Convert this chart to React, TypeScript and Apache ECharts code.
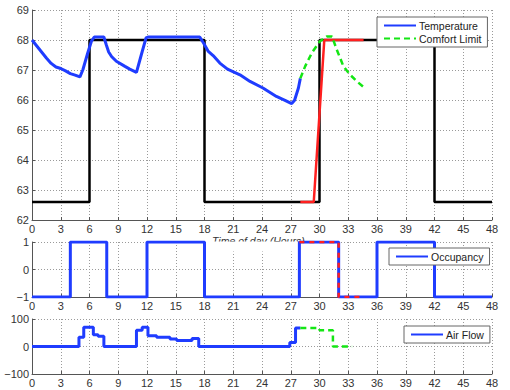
import React, { useEffect, useRef } from "react";
import * as echarts from "echarts";

// x tick labels (hours)
const hourTicks = [0, 3, 6, 9, 12, 15, 18, 21, 24, 27, 30, 33, 36, 39, 42, 45, 48];

// Top panel: temperature (°F)
const temperature: [number, number][] = [
  [0, 68], [0.5, 67.8], [1, 67.6], [1.5, 67.4], [2, 67.22], [2.5, 67.1], [3, 67.05],
  [3.5, 66.97], [4, 66.88], [4.5, 66.83], [5, 66.77], [5.3, 67.0], [5.8, 67.55],
  [6.2, 67.96], [6.5, 68.1], [7.5, 68.1], [7.75, 67.84], [8.0, 67.6], [8.3, 67.45],
  [8.8, 67.29], [9.7, 67.12], [10.2, 67.03], [10.9, 66.92], [11.4, 67.5], [11.9, 68.07],
  [12.1, 68.1], [17.5, 68.1], [17.9, 67.9], [18.4, 67.62], [18.9, 67.48], [19.6, 67.23],
  [20.4, 67.03], [21.7, 66.84], [22.75, 66.62], [24.1, 66.4], [25.5, 66.12], [26.4, 65.99],
  [27.1, 65.88], [27.4, 65.99], [27.8, 66.4], [28, 66.72],
];
const comfortTemp: [number, number][] = [
  [28, 66.72], [28.5, 67.12], [29.2, 67.57], [30.05, 67.96], [30.75, 68.12], [31.3, 68.12],
  [31.8, 67.68], [32.5, 67.12], [33.2, 66.84], [33.9, 66.62], [34.6, 66.43],
];
const setpoint: [number, number][] = [
  [0, 62.6], [6, 62.6], [6, 68], [18, 68], [18, 62.6], [30, 62.6], [30, 68], [42, 68],
  [42, 62.6], [48, 62.6],
];
const predictedSetpoint: [number, number][] = [
  [28, 62.6], [29.4, 62.6], [30.5, 68], [34.6, 68],
];

// Middle panel: occupancy
const occupancy: [number, number][] = [
  [0, -1], [4, -1], [4, 1], [7.8, 1], [7.8, -1], [12, -1], [12, 1], [18, 1], [18, -1],
  [27.9, -1], [27.9, 1], [32, 1], [32, -1], [36, -1], [36, 1], [42, 1], [42, -1], [48, -1],
];
const predictedOccupancy: [number, number][] = [
  [27.9, 1], [32, 1], [32, -1], [34.6, -1],
];

// Bottom panel: air flow
const airFlow: [number, number][] = [
  [0, 0], [4.9, 0], [4.9, 34], [5.4, 34], [5.4, 70], [6.4, 70], [6.4, 43], [6.9, 43],
  [6.9, 37], [7.5, 37], [7.5, 0], [10.9, 0], [10.9, 59], [11.5, 59], [11.5, 70], [12.1, 70],
  [12.1, 39], [13, 39], [13, 34], [14.4, 34], [14.4, 27], [15.1, 27], [15.1, 22], [16.7, 22],
  [16.7, 29], [17.4, 29], [17.4, 0], [26.9, 0], [26.9, 15], [27.5, 15], [27.5, 67], [28, 67],
];
const comfortAirFlow: [number, number][] = [
  [28, 67], [30, 67], [30, 59], [31.4, 59], [31.4, 0], [33.4, 0],
];

const BLUE = "#1f3cff";
const GREEN = "#14e614";
const RED = "#ff1f1f";
const FONT = "Liberation Sans, Arial, sans-serif";

const minus = (v: number) => String(v).replace("-", "\u2212");

function xAxis(gridIndex: number) {
  return {
    type: "value",
    gridIndex,
    min: 0,
    max: 48,
    interval: 3,
    axisLine: { show: true, onZero: false, lineStyle: { color: "#555", width: 1 } },
    axisTick: { show: true, inside: true, length: 3, lineStyle: { color: "#555" } },
    axisLabel: {
      color: "#333", fontSize: 11, fontFamily: FONT, margin: 3, showMinLabel: true, showMaxLabel: true,
      formatter: (v: number) => (hourTicks.includes(v) ? String(v) : ""),
    },
    splitLine: { show: true, lineStyle: { color: "#9a9a9a", type: [1, 2], width: 1 } },
  };
}
function yAxis(gridIndex: number, min: number, max: number, interval: number) {
  return {
    type: "value",
    gridIndex,
    min,
    max,
    interval,
    axisLine: { show: true, onZero: false, lineStyle: { color: "#555", width: 1 } },
    axisTick: { show: true, inside: true, length: 3, lineStyle: { color: "#555" } },
    axisLabel: { color: "#333", fontSize: 11, fontFamily: FONT, margin: 3, formatter: minus },
    splitLine: { show: true, lineStyle: { color: "#9a9a9a", type: [1, 2], width: 1 } },
  };
}

function lineSeries(name: string, data: [number, number][], idx: number, color: string, width: number, type: any = "solid", z = 2) {
  return {
    name,
    type: "line",
    xAxisIndex: idx,
    yAxisIndex: idx,
    data,
    symbol: "none",
    z,
    lineStyle: { color, width, type },
    itemStyle: { color },
  };
}

function legend(names: string[], left: number, top: number, width: number) {
  return {
    data: names,
    left,
    top,
    width,
    orient: "vertical",
    itemWidth: 32,
    itemHeight: 10,
    itemGap: 2,
    padding: [3, 6, 3, 6],
    backgroundColor: "#fff",
    borderColor: "#666",
    borderWidth: 1,
    borderRadius: 0,
    itemStyle: { opacity: 0 },
    textStyle: { color: "#222", fontSize: 10.5, fontFamily: FONT, padding: [0, 0, 0, -2] },
    selectedMode: false,
  };
}

export default function App() {
  const ref = useRef<HTMLDivElement>(null);
  useEffect(() => {
    if (!ref.current) return;
    const chart = echarts.init(ref.current, undefined, { renderer: "svg" });
    const option: any = {
      animation: false,
      backgroundColor: "#fff",
      textStyle: { fontFamily: FONT },
      grid: [
        { left: 32, top: 10, width: 460, height: 210 },
        { left: 32, top: 242, width: 460, height: 55 },
        { left: 32, top: 319, width: 460, height: 55 },
      ],
      xAxis: [xAxis(0), xAxis(1), xAxis(2)],
      yAxis: [yAxis(0, 62, 69, 1), yAxis(1, -1, 1, 1), yAxis(2, -100, 100, 100)],
      legend: [
        legend(["Temperature", "Comfort Limit"], 377, 17, 112),
        legend(["Occupancy"], 389, 248, 100),
        legend(["Air Flow"], 404, 326, 85),
      ],
      graphic: [
        {
          type: "text",
          left: 212,
          top: 235,
          z: 0,
          style: { text: "Time of day (Hours)", fill: "#333", font: `italic 10.5px ${FONT}` },
        },
        {
          type: "rect",
          z: 1,
          shape: { x: 205, y: 241.5, width: 120, height: 10 },
          style: { fill: "#fff" },
        },
      ],
      series: [
        lineSeries("setpoint", setpoint, 0, "#000", 2.5, "solid", 2),
        lineSeries("predicted", predictedSetpoint, 0, RED, 2.5, "solid", 3),
        lineSeries("Temperature", temperature, 0, BLUE, 3, "solid", 4),
        lineSeries("Comfort Limit", comfortTemp, 0, GREEN, 2.5, [6, 4], 4),
        lineSeries("Occupancy", occupancy, 1, BLUE, 3, "solid", 3),
        lineSeries("occPred", predictedOccupancy, 1, RED, 2.5, [5, 5], 4),
        lineSeries("Air Flow", airFlow, 2, BLUE, 3, "solid", 3),
        lineSeries("airPred", comfortAirFlow, 2, GREEN, 2.5, [6, 4], 4),
      ],
    };
    chart.setOption(option);
    return () => chart.dispose();
  }, []);
  return (
    <div
      ref={ref}
      style={{ position: "fixed", left: 0, top: 0, width: 510, height: 390, background: "#fff" }}
    />
  );
}
